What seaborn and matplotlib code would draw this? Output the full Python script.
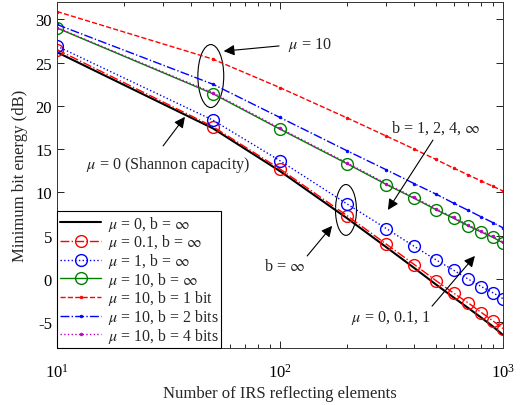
import matplotlib
matplotlib.use('Agg')
import matplotlib.pyplot as plt
from matplotlib.patches import Ellipse
import numpy as np
import pandas as pd
import seaborn as sns

# Data
n_elems = [10, 50, 100, 200, 300, 400, 500, 600, 700, 800, 900, 1000]

mu0_inf = [26.2, 17.4, 12.45, 7.0, 3.65, 1.25, -0.65, -2.15, -3.4, -4.5, -5.5, -6.5]
mu01_inf = [26.5, 17.6, 12.7, 7.3, 4.0, 1.65, -0.2, -1.65, -2.8, -3.9, -4.85, -5.75]
mu1_inf = [26.9, 18.35, 13.65, 8.65, 5.8, 3.75, 2.2, 1.0, -0.05, -0.9, -1.6, -2.3]
mu10_inf = [29.0, 21.4, 17.3, 13.3, 10.9, 9.3, 8.0, 7.0, 6.1, 5.4, 4.8, 4.15]
mu10_b1 = [30.9, 25.4, 22.1, 18.6, 16.5, 15.0, 13.8, 12.8, 12.0, 11.3, 10.7, 10.15]
mu10_b2 = [29.4, 22.5, 18.65, 14.8, 12.6, 11.0, 9.8, 8.75, 7.9, 7.15, 6.5, 5.9]
mu10_b4 = [29.05, 21.5, 17.4, 13.4, 11.0, 9.4, 8.1, 7.1, 6.2, 5.5, 4.9, 4.25]

labels = [r'$\mu$ = 0, b = $\infty$',
          r'$\mu$ = 0.1, b = $\infty$',
          r'$\mu$ = 1, b = $\infty$',
          r'$\mu$ = 10, b = $\infty$',
          r'$\mu$ = 10, b = 1 bit',
          r'$\mu$ = 10, b = 2 bits',
          r'$\mu$ = 10, b = 4 bits']

sns.set_style('ticks')
plt.rcParams['font.family'] = ['Liberation Serif', 'DejaVu Serif']
plt.rcParams['mathtext.fontset'] = 'stix'
plt.rcParams['xtick.direction'] = 'in'
plt.rcParams['ytick.direction'] = 'in'

series = [
    (mu0_inf, 'k', '-', None, 1.5),
    (mu01_inf, 'r', '-.', 'o', 1.0),
    (mu1_inf, 'b', ':', 'o', 1.0),
    (mu10_inf, (0, 0.5, 0), '-', 'o', 1.0),
    (mu10_b1, 'r', '--', '.', 1.0),
    (mu10_b2, 'b', '-.', '.', 1.0),
    (mu10_b4, 'm', ':', '.', 1.0),
]

fig = plt.figure(figsize=(5.22, 4.06), dpi=100)
ax = fig.add_axes([0.109, 0.1404, 0.8546, 0.8522])

for (vals, col, ls, mk, lw), lab in zip(series, labels):
    df = pd.DataFrame({'N': n_elems, 'E': vals})
    kw = dict(color=col, linestyle=ls, linewidth=lw, label=lab)
    if mk == 'o':
        kw.update(marker='o', markersize=8.5, markerfacecolor='none',
                  markeredgecolor=col, markeredgewidth=1.0)
    elif mk == '.':
        kw.update(marker='.', markersize=4, markerfacecolor=col,
                  markeredgecolor=col, markeredgewidth=0.5)
    sns.lineplot(data=df, x='N', y='E', ax=ax, **kw)

ax.set_xscale('log')
ax.set_xlim(10, 1000)
ax.set_ylim(-8, 32)
ax.set_yticks([-5, 0, 5, 10, 15, 20, 25, 30])
ax.set_yticklabels(['-5', '0', '5', '10', '15', '20', '25', '30'])
ax.tick_params(which='both', top=True, right=True, labelsize=12, colors='k')
ax.tick_params(which='major', length=5, width=0.6)
ax.tick_params(which='minor', length=3, width=0.6)
ax.tick_params(axis='x', which='major', pad=11)
for sp in ax.spines.values():
    sp.set_linewidth(0.7)
    sp.set_color('#333333')

ax.set_xlabel('Number of IRS reflecting elements', fontsize=12, labelpad=3)
ax.set_ylabel('Minimum bit energy (dB)', fontsize=12, labelpad=5)

leg = ax.legend(loc='lower left', borderaxespad=0, fancybox=False,
                edgecolor='k', framealpha=1, fontsize=11.4,
                handlelength=2.6, handletextpad=0.4, labelspacing=-0.02,
                borderpad=0.2, numpoints=1)
leg.get_frame().set_linewidth(0.8)

# ellipses around the grouped points
ax.add_patch(Ellipse((0.345, 0.786), 0.058, 0.182, transform=ax.transAxes,
                     fill=False, edgecolor='k', linewidth=0.8))
ax.add_patch(Ellipse((0.648, 0.399), 0.047, 0.147, transform=ax.transAxes,
                     fill=False, edgecolor='k', linewidth=0.8))

arrow = dict(arrowstyle='-|>', mutation_scale=16, color='k', lw=0.8,
             shrinkA=0, shrinkB=0)
tk = dict(fontsize=11.6, ha='center', va='center')

ax.annotate('', xy=(0.374, 0.858), xytext=(0.498, 0.873),
            xycoords='axes fraction', arrowprops=arrow)
ax.text(0.567, 0.879, r'$\mu$ = 10', transform=ax.transAxes, **tk)

ax.annotate('', xy=(0.287, 0.668), xytext=(0.238, 0.584),
            xycoords='axes fraction', arrowprops=arrow)
ax.text(0.249, 0.532, r'$\mu$ = 0 (Shannon capacity)', transform=ax.transAxes, **tk)

ax.annotate('', xy=(0.617, 0.353), xytext=(0.561, 0.266),
            xycoords='axes fraction', arrowprops=arrow)
ax.text(0.511, 0.237, r'b = $\infty$', transform=ax.transAxes, **tk)

ax.annotate('', xy=(0.742, 0.399), xytext=(0.843, 0.601),
            xycoords='axes fraction', arrowprops=arrow)
ax.text(0.850, 0.639, r'b = 1, 2, 4, $\infty$', transform=ax.transAxes, **tk)

ax.annotate('', xy=(0.937, 0.266), xytext=(0.841, 0.121),
            xycoords='axes fraction', arrowprops=arrow)
ax.text(0.749, 0.090, r'$\mu$ = 0, 0.1, 1', transform=ax.transAxes, **tk)

fig.savefig('out.png', dpi=100)
